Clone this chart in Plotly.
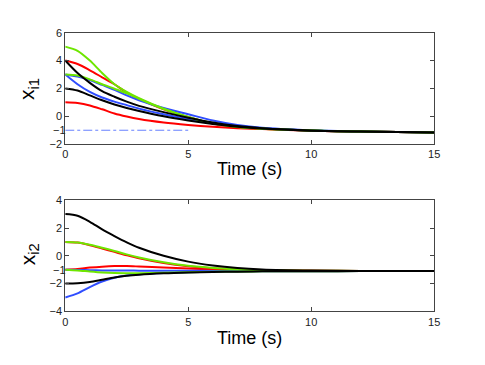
import plotly.graph_objects as go

# sample times (s)
TIME = [0, 0.5, 1, 1.5, 2, 2.5, 3, 4, 5, 6, 7, 8, 10, 12, 15]

# x_i1 trajectories
TOP_RED1 = [4, 3.75, 3.3, 2.8, 2.3, 1.7, 1.25, 0.5, -0.05, -0.52, -0.77, -0.9, -1.03, -1.1, -1.17]
TOP_RED2 = [1, 0.95, 0.78, 0.5, 0.2, -0.02, -0.2, -0.45, -0.62, -0.75, -0.85, -0.92, -1.03, -1.1, -1.17]
TOP_BLUE1 = [3, 2.85, 2.6, 2.25, 1.9, 1.5, 1.15, 0.6, 0.15, -0.3, -0.62, -0.82, -1.0, -1.1, -1.17]
TOP_BLUE2 = [3, 2.3, 1.75, 1.35, 1.05, 0.8, 0.55, 0.15, -0.2, -0.5, -0.72, -0.87, -1.02, -1.1, -1.17]
TOP_GREEN1 = [5, 4.7, 4.0, 3.1, 2.3, 1.75, 1.3, 0.55, -0.05, -0.5, -0.75, -0.88, -1.02, -1.1, -1.17]
TOP_GREEN2 = [3, 2.92, 2.65, 2.3, 1.98, 1.65, 1.25, 0.52, -0.07, -0.5, -0.76, -0.89, -1.02, -1.1, -1.17]
TOP_BLACK1 = [4, 3.1, 2.4, 1.8, 1.4, 1.05, 0.75, 0.3, -0.1, -0.45, -0.7, -0.85, -1.02, -1.1, -1.17]
TOP_BLACK2 = [2, 1.85, 1.5, 1.15, 0.85, 0.6, 0.38, 0.0, -0.3, -0.55, -0.75, -0.88, -1.03, -1.1, -1.17]

# reference level shown dash-dot in the top panel
REF_T = [0, 5]
REF_Y = [-1, -1]

# x_i2 trajectories
BOT_RED1 = [1, 0.95, 0.76, 0.52, 0.28, 0.04, -0.18, -0.52, -0.75, -0.89, -0.97, -1.03, -1.07, -1.09, -1.1]
BOT_RED2 = [-1, -0.95, -0.85, -0.78, -0.74, -0.74, -0.77, -0.84, -0.92, -0.98, -1.02, -1.05, -1.08, -1.09, -1.1]
BOT_BLUE1 = [-3, -2.7, -2.25, -1.85, -1.58, -1.42, -1.33, -1.24, -1.19, -1.15, -1.13, -1.12, -1.11, -1.1, -1.1]
BOT_BLUE2 = [-1, -1.02, -1.04, -1.05, -1.06, -1.06, -1.07, -1.08, -1.08, -1.09, -1.09, -1.1, -1.1, -1.1, -1.1]
BOT_GREEN1 = [1, 0.96, 0.8, 0.58, 0.35, 0.1, -0.12, -0.47, -0.72, -0.87, -0.96, -1.02, -1.07, -1.09, -1.1]
BOT_GREEN2 = [-1, -1.05, -1.13, -1.2, -1.24, -1.25, -1.25, -1.22, -1.18, -1.15, -1.13, -1.12, -1.11, -1.1, -1.1]
BOT_BLACK1 = [3, 2.88, 2.45, 1.9, 1.42, 0.97, 0.58, 0.0, -0.42, -0.7, -0.88, -0.98, -1.06, -1.09, -1.1]
BOT_BLACK2 = [-2, -1.97, -1.88, -1.72, -1.56, -1.44, -1.36, -1.26, -1.2, -1.16, -1.14, -1.12, -1.11, -1.1, -1.1]

COLORS = {'red': '#ff0000', 'blue': '#2f4dff', 'green': '#6ee600', 'black': '#000000'}
FONT = 'Liberation Sans, Arial, sans-serif'

fig = go.Figure()

# drawing order: red, blue, green, black (like the original)
panels = [
    ('x', 'y', [('red', TOP_RED1), ('red', TOP_RED2), ('blue', TOP_BLUE1), ('blue', TOP_BLUE2),
                ('green', TOP_GREEN1), ('green', TOP_GREEN2), ('black', TOP_BLACK1), ('black', TOP_BLACK2)]),
    ('x2', 'y2', [('red', BOT_RED1), ('red', BOT_RED2), ('blue', BOT_BLUE1), ('blue', BOT_BLUE2),
                  ('green', BOT_GREEN1), ('green', BOT_GREEN2), ('black', BOT_BLACK1), ('black', BOT_BLACK2)]),
]
for xa, ya, series in panels:
    for col, vals in series:
        fig.add_trace(go.Scatter(
            x=TIME, y=vals, mode='lines', xaxis=xa, yaxis=ya,
            line=dict(color=COLORS[col], width=2, shape='spline', smoothing=0.8),
            showlegend=False, hoverinfo='skip'
        ))

fig.add_trace(go.Scatter(
    x=REF_T, y=REF_Y, mode='lines', xaxis='x', yaxis='y',
    line=dict(color='#6680ff', width=1, dash='dashdot'),
    showlegend=False, hoverinfo='skip'
))

axis_common = dict(
    showgrid=False, zeroline=False, showline=True, linecolor='#444', linewidth=1,
    mirror='ticks', ticks='inside', ticklen=4, tickcolor='#444',
    tickfont=dict(family=FONT, size=11, color='#222'),
)

# page body has an 8px margin, so the figure is 8px smaller than the window
fig.update_layout(
    width=477, height=357,
    margin=dict(l=0, r=0, t=0, b=0),
    paper_bgcolor='white', plot_bgcolor='white',
    xaxis=dict(domain=[0.1159, 0.9042], range=[0, 15], tickvals=[0, 5, 10, 15],
               anchor='y', **axis_common),
    yaxis=dict(domain=[0.6227, 0.9459], range=[-2, 6], tickvals=[-2, 0, 2, 4, 6],
               ticktext=['\u22122', '0', '2', '4', '6'], anchor='x', **axis_common),
    xaxis2=dict(domain=[0.1159, 0.9042], range=[0, 15], tickvals=[0, 5, 10, 15],
                anchor='y2', **axis_common),
    yaxis2=dict(domain=[0.1381, 0.4602], range=[-4, 4], tickvals=[-4, -2, 0, 2, 4],
                ticktext=['\u22124', '\u22122', '0', '2', '4'], anchor='x2', **axis_common),
)

label_font = dict(family=FONT, size=18, color='black')
fig.add_annotation(text='Time (s)', xref='paper', yref='paper', x=0.5101, y=0.5518,
                   xanchor='center', yanchor='middle', showarrow=False, font=label_font)
fig.add_annotation(text='Time (s)', xref='paper', yref='paper', x=0.5101, y=0.0616,
                   xanchor='center', yanchor='middle', showarrow=False, font=label_font)
fig.add_annotation(text='x<sub>i1</sub>', xref='paper', yref='paper', x=0.0377, y=0.7815,
                   xanchor='center', yanchor='middle',
                   textangle=-90, showarrow=False, font=dict(family=FONT, size=21, color='black'))
fig.add_annotation(text='x<sub>i2</sub>', xref='paper', yref='paper', x=0.0377, y=0.3025,
                   xanchor='center', yanchor='middle',
                   textangle=-90, showarrow=False, font=dict(family=FONT, size=21, color='black'))

# the "-1" marks sitting on the y axes
fig.add_annotation(text='\u22121', xref='x', yref='y', x=0, y=-1, xanchor='right', xshift=3,
                   showarrow=False, font=dict(family=FONT, size=11, color='#222'))
fig.add_annotation(text='\u22121', xref='x2', yref='y2', x=0, y=-1, xanchor='right', xshift=3,
                   showarrow=False, font=dict(family=FONT, size=11, color='#222'))

fig.write_html("out.html")
